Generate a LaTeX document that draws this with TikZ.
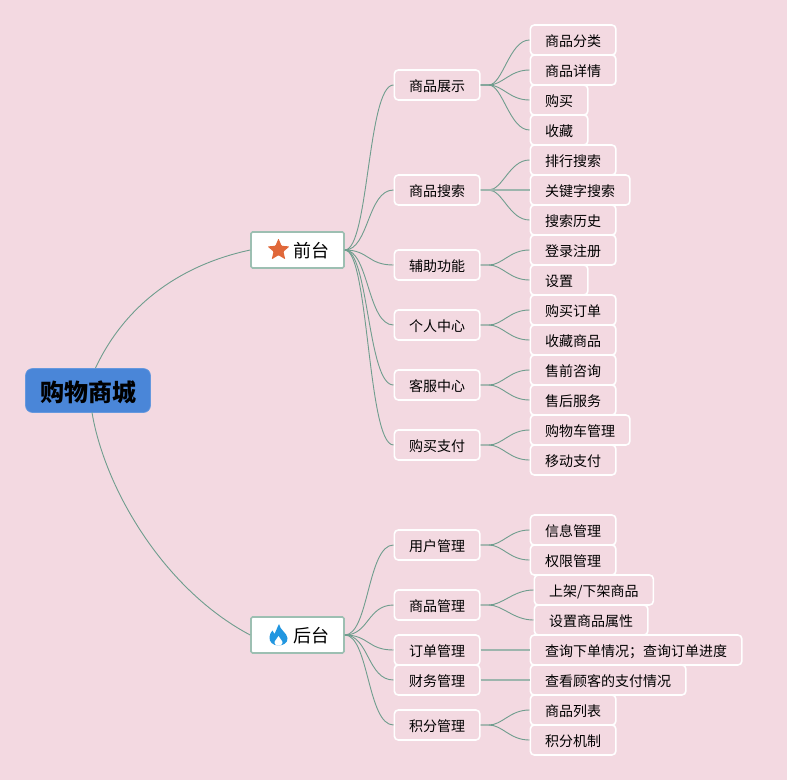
\documentclass[tikz,border=0pt]{standalone}
\usepackage{fontspec}
\setmainfont{Noto Sans CJK SC}
\usetikzlibrary{shapes.geometric}
\definecolor{bgpink}{HTML}{F3D9E1}
\definecolor{rootblue}{HTML}{4A86D8}
\definecolor{linkgreen}{HTML}{6F9D8E}
\definecolor{edgegreen}{HTML}{9DBFB2}
\definecolor{staricon}{HTML}{E0683A}
\definecolor{flameicon}{HTML}{2196E0}
\tikzset{
  rootbox/.style={draw=rootblue!85!white,fill=rootblue,rounded corners=7pt,line width=.6pt,font=\bfseries\fontsize{24}{24}\selectfont,minimum width=125pt,minimum height=44pt,inner sep=0pt,text height=23pt,text depth=2pt},
  mainbox/.style={draw=edgegreen,fill=white,rounded corners=1.5pt,line width=1.6pt,font=\fontsize{18}{18}\selectfont,minimum width=93pt,minimum height=36pt,inner sep=0pt,text height=17pt,text depth=1.4pt},
  subbox/.style={draw=white,fill=bgpink,rounded corners=4pt,line width=1.6pt,font=\fontsize{14}{14}\selectfont,minimum height=30pt,inner ysep=0pt,inner xsep=14.8pt,anchor=west,text height=14pt,text depth=1.2pt},
  link/.style={draw=linkgreen,line width=.9pt},
  flatlink/.style={draw=linkgreen!75!gray!70!white,line width=1.4pt},
}
\begin{document}
\begin{tikzpicture}[x=1pt,y=1pt]
        \useasboundingbox[fill=bgpink] (0,0) rectangle (787,-780);

        \node[rootbox] (root) at (88,-390.5) {购物商城};
        \node[mainbox] (front) at (297.5,-250) {\hspace{27pt}前台};
        \node[mainbox] (back) at (297.5,-635) {\hspace{27pt}后台};
        \coordinate (rootup) at (95.5,-368);
        \coordinate (rootdown) at (92,-412.5);

        % icons
        \node[star,star points=5,star point ratio=2.2,fill=staricon,rounded corners=.8pt,minimum size=23pt,inner sep=0pt] (frontstar) at (278.5,-250) {};
        \fill[flameicon] (279,-624) .. controls (280,-630) and (287,-633) .. (287.5,-638)
             .. controls (288,-643) and (283,-645.5) .. (278.5,-645.5)
             .. controls (273,-645.5) and (269,-642) .. (269.5,-637)
             .. controls (269.7,-634) and (271,-632) .. (272.5,-630.5)
             .. controls (273,-632) and (273.5,-633) .. (274.5,-634)
             .. controls (276,-631) and (277,-628) .. (279,-624) -- cycle;
        \fill[white] (278.5,-636) .. controls (279,-639) and (283,-640) .. (282.5,-643) .. controls (282,-646.5) and (275,-646.5) .. (274.5,-643) .. controls (274,-640) and (278,-639) .. (278.5,-636) -- cycle;

        % second level
        \foreach \nm/\y/\txt in {show/85/商品展示,search/190/商品搜索,assist/265/辅助功能,person/325/个人中心,service/385/客服中心,pay/445/购买支付,user/545/用户管理,goods/605/商品管理,order/650/订单管理,finance/680/财务管理,score/725/积分管理}
          \node[subbox] (\nm) at (393.5,-\y) {\txt};

        % leaves
        \foreach \nm/\y/\txt in {kinds/40/商品分类,detail/70/商品详情,buy/100/购买,fav/130/收藏,rank/160/排行搜索,keyword/190/关键字搜索,history/220/搜索历史,login/250/登录注册,setting/280/设置,buyorder/310/购买订单,favgoods/340/收藏商品,presale/370/售前咨询,aftersale/400/售后服务,cart/430/购物车管理,mobile/460/移动支付,info/530/信息管理,right/560/权限管理,shelf/650/查询下单情况；查询订单进度,payinfo/680/查看顾客的支付情况,list/710/商品列表,rule/740/积分机制}
          \node[subbox] (\nm) at (529.5,-\y) {\txt};
        \node[subbox] (updown) at (533.5,-590) {上架/下架商品};
        \node[subbox] (attr) at (533.5,-620) {设置商品属性};

        \draw[link] (rootup) .. controls (125,-305) and (180,-265) .. (front.west);
        \draw[link] (rootdown) .. controls (105,-490) and (165,-590) .. (back.west);

        \foreach \dst in {show,search,assist,person,service,pay}
          \draw[link] (front.east) .. controls +(24,0) and +(-26,0) .. (\dst.west);
        \foreach \dst in {user,goods,order,finance,score}
          \draw[link] (back.east) .. controls +(24,0) and +(-26,0) .. (\dst.west);

        \foreach \src/\dst in {show/kinds,show/detail,show/buy,show/fav,search/rank,search/history,assist/login,assist/setting,person/buyorder,person/favgoods,service/presale,service/aftersale,pay/cart,pay/mobile,user/info,user/right,goods/updown,goods/attr,score/list,score/rule}
          \draw[link] (\src.east) -- ++(8,0) .. controls +(14,0) and +(-20,0) .. (\dst.west);

        \foreach \src/\dst in {search/keyword,order/shelf,finance/payinfo}
          \draw[flatlink] (\src.east) -- (\dst.west);
\end{tikzpicture}
\end{document}
